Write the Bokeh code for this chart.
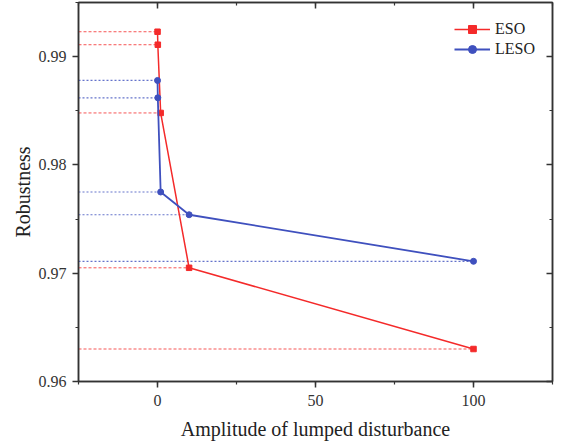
from bokeh.plotting import figure
from bokeh.models import (LinearAxis, SingleIntervalTicker, Range1d, Legend, LegendItem,
                          CustomJSTickFormatter)
from bokeh.embed import file_html
from bokeh.resources import INLINE

# ---- data ----
amplitude = [0.01, 0.1, 1, 10, 100]
eso = [0.9923, 0.9911, 0.9848, 0.9705, 0.9630]
leso = [0.9878, 0.9862, 0.9775, 0.9754, 0.9711]
x_ticks_interval = 50
y_ticks_interval = 0.01
x_label = "Amplitude of lumped disturbance"
y_label = "Robustness"

X_START, X_END = -25, 125
Y_START, Y_END = 0.96, 0.995

RED = "#f42a2a"
BLUE = "#3f50be"
FONT = "Liberation Serif"
AX_FONT = "serif"
AX_COL = "#333333"

p = figure(frame_width=474, frame_height=379, output_backend="svg", toolbar_location=None,
           x_range=Range1d(X_START, X_END), y_range=Range1d(Y_START, Y_END),
           min_border_left=78, min_border_top=2, min_border_right=2, min_border_bottom=5,
           x_axis_type=None, y_axis_type=None)
p.xgrid.visible = False
p.ygrid.visible = False
p.outline_line_color = AX_COL
p.outline_line_width = 1.5
p.background_fill_color = "white"


def style_axis(ax, labels=True, inward=False):
    ax.axis_line_color = AX_COL
    ax.axis_line_width = 1.5
    ax.major_tick_line_color = AX_COL
    ax.minor_tick_line_color = AX_COL
    ax.major_tick_line_width = 1.5
    ax.minor_tick_line_width = 1.2
    if inward:
        ax.major_tick_in, ax.major_tick_out = 6, 0
        ax.minor_tick_in, ax.minor_tick_out = 3, 0
    else:
        ax.major_tick_in, ax.major_tick_out = 0, 6
        ax.minor_tick_in, ax.minor_tick_out = 0, 3
    if labels:
        ax.major_label_text_font = AX_FONT
        ax.major_label_text_font_size = "16px"
        ax.major_label_text_color = AX_COL
        ax.axis_label_text_font = AX_FONT
        ax.axis_label_text_font_size = "20px"
        ax.axis_label_text_font_style = "normal"
        ax.axis_label_text_color = "#222222"
    else:
        ax.formatter = CustomJSTickFormatter(code="return ''")
        ax.major_label_standoff = 0


xt = lambda: SingleIntervalTicker(interval=x_ticks_interval, num_minor_ticks=2)
yt = lambda: SingleIntervalTicker(interval=y_ticks_interval, num_minor_ticks=2)

bottom = LinearAxis(ticker=xt(), axis_label=x_label)
style_axis(bottom)
bottom.major_label_standoff = 7
bottom.axis_label_standoff = 9
p.add_layout(bottom, "below")

left = LinearAxis(ticker=yt(), axis_label=y_label)
style_axis(left)
left.major_label_standoff = 6
left.axis_label_standoff = 2
p.add_layout(left, "left")

top = LinearAxis(ticker=xt())
style_axis(top, labels=False, inward=True)
p.add_layout(top, "above")

right = LinearAxis(ticker=yt())
style_axis(right, labels=False, inward=True)
p.add_layout(right, "right")

# ---- dotted guide lines ----
p.segment(x0=[X_START] * len(eso), y0=eso, x1=amplitude, y1=eso,
          line_color=RED, line_width=1, line_dash="3 2", line_alpha=0.8)
p.segment(x0=[X_START] * len(leso), y0=leso, x1=amplitude, y1=leso,
          line_color=BLUE, line_width=1.2, line_dash="2 2", line_alpha=0.8)

# ---- series ----
r_line = p.line(amplitude, eso, line_color=RED, line_width=1.5)
r_pts = p.scatter(amplitude, eso, marker="square", size=5.5, fill_color=RED, line_color=RED)
b_line = p.line(amplitude, leso, line_color=BLUE, line_width=1.8)
b_pts = p.scatter(amplitude, leso, marker="circle", size=6, fill_color=BLUE, line_color=BLUE)

legend = Legend(items=[LegendItem(label="ESO", renderers=[r_line, r_pts]),
                       LegendItem(label="LESO", renderers=[b_line, b_pts])],
                location="top_right")
legend.border_line_alpha = 0
legend.background_fill_alpha = 0
legend.label_text_font = FONT
legend.label_text_font_size = "16px"
legend.label_text_color = "#222222"
legend.glyph_width = 36
legend.glyph_height = 20
legend.label_height = 20
legend.label_standoff = 5
legend.spacing = 0
legend.margin = 8
legend.padding = 9
p.add_layout(legend)

open("out.html", "w").write(file_html(p, INLINE))
